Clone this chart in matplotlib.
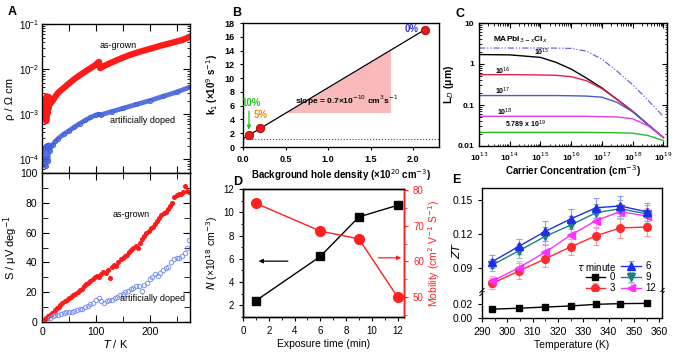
import numpy as np
import matplotlib
matplotlib.use('Agg')
import matplotlib.pyplot as plt
from matplotlib.ticker import MultipleLocator, NullFormatter, LogLocator

plt.rcParams['font.family'] = ['Liberation Sans', 'DejaVu Sans']
plt.rcParams['axes.linewidth'] = 1.0

# ---- panel A: resistivity (log) ----
T_rho_ag = [5, 6, 7, 8, 9, 10, 11, 12, 13, 14, 15, 17, 20, 25, 30, 40, 50, 60, 70, 80,
            90, 100, 104, 106, 108, 120, 140, 160, 180, 200, 220, 240, 260, 275]
rho_ag = [1.2e-3, 8e-4, 2.2e-3, 7e-4, 2.5e-3, 1.0e-3, 2.3e-3, 1.3e-3, 2.4e-3, 1.6e-3, 2.0e-3,
          1.8e-3, 2.0e-3, 2.5e-3, 3.0e-3, 3.8e-3, 4.8e-3, 6.0e-3, 7.3e-3, 8.8e-3,
          1.05e-2, 1.25e-2, 1.4e-2, 1.45e-2, 1.05e-2, 1.25e-2, 1.6e-2, 2.0e-2, 2.4e-2, 2.8e-2,
          3.3e-2, 3.8e-2, 4.4e-2, 5.2e-2]
T_rho_ad = [5, 6, 7, 8, 9, 10, 11, 12, 14, 16, 20, 25, 30, 40, 50, 60, 70, 80, 90, 100,
            105, 110, 130, 150, 175, 200, 225, 250, 275]
rho_ad = [1.0e-4, 1.8e-4, 7e-5, 2.0e-4, 1.1e-4, 1.9e-4, 9e-5, 2.1e-4, 1.5e-4, 2.0e-4, 2.1e-4,
          2.5e-4, 2.9e-4, 3.6e-4, 4.3e-4, 5.2e-4, 6.2e-4, 7.3e-4, 8.5e-4, 9.6e-4, 1.0e-3,
          0.98e-3, 1.15e-3, 1.35e-3, 1.65e-3, 2.0e-3, 2.5e-3, 3.1e-3, 4.0e-3]

# ---- panel A: Seebeck ----
T_S_ag = [6, 8, 10, 12, 14, 16, 19, 22, 25, 28, 31, 34, 38, 42, 46, 50, 54, 58, 62, 66, 70,
          74, 78, 82, 86, 90, 94, 98, 102, 106, 110, 114, 118, 122, 126, 130, 134, 138, 142,
          146, 150, 154, 158, 162, 166, 170, 174, 178, 182, 186, 190, 194, 198, 202, 206,
          210, 214, 218, 222, 226, 230, 234, 238, 242, 246, 250, 254, 258, 262, 266, 270, 274]
S_ag = [2, 3, 2.5, 4, 4.5, 5, 6, 7, 8, 9.5, 10, 11.5, 13, 14, 15, 16, 16.5, 18, 19, 20, 21.5,
        22, 24, 25.5, 26, 27.5, 29, 30, 31, 30, 32, 33.5, 33, 35, 29.5, 37, 38, 37.5, 40,
        42, 43, 44.5, 45, 47, 48, 50, 51, 50, 53, 56, 58, 60, 61, 63, 64,
        66, 68, 70, 72, 73, 74, 76, 78, 80, 84, 85, 86, 86, 87, 91, 88, 87]
T_S_ad = [15, 20, 25, 30, 35, 40, 45, 50, 55, 60, 65, 70, 75, 80, 85, 90, 95, 100, 105, 110,
          115, 120, 125, 130, 135, 140, 145, 150, 155, 160, 165, 170, 175, 180, 185, 190, 195,
          200, 205, 210, 215, 220, 225, 230, 235, 240, 245, 250, 255, 260, 265, 270, 274]
S_ad = [3, 4, 4.5, 5, 5.5, 6, 6.5, 7, 7, 7.5, 8, 8.5, 9, 10, 11, 12, 13, 15, 16, 14,
        13, 14, 15, 15, 16, 17, 18, 19, 20, 21, 22, 23, 24, 24, 21, 25, 26,
        29, 30, 32, 31, 33, 35, 36, 37, 40, 42, 43, 43, 44, 46, 50, 55]

# ---- panel B ----
hole_density = [0.07, 0.2, 2.13]
k1 = [1.8, 2.7, 17.0]
fit_x = [0.0, 2.13]
fit_y = [1.2, 17.0]
shade_x = [0.52, 1.73]
dotted_level = 1.1

# ---- panel C ----
n_carrier = [1e13, 1e14, 1e15, 3.16e15, 1e16, 3.16e16, 1e17, 3.16e17, 1e18, 3.16e18, 1e19]
L_mapbi = [2.45, 2.45, 2.45, 2.44, 2.4, 2.05, 1.3, 0.66, 0.31, 0.13, 0.052]
L_15 = [1.70, 1.67, 1.45, 1.1, 0.75, 0.45, 0.26, 0.135, 0.07, 0.033, 0.016]
L_16 = [0.55, 0.55, 0.54, 0.53, 0.49, 0.39, 0.25, 0.135, 0.07, 0.033, 0.016]
L_17 = [0.17, 0.17, 0.17, 0.17, 0.168, 0.165, 0.155, 0.115, 0.068, 0.033, 0.016]
L_18 = [0.053, 0.053, 0.053, 0.053, 0.053, 0.053, 0.052, 0.051, 0.046, 0.031, 0.016]
L_19 = [0.0215, 0.0215, 0.0215, 0.0215, 0.0215, 0.0215, 0.0213, 0.021, 0.0205, 0.018, 0.0135]

# ---- panel D ----
exposure = [1, 6, 9, 12]
N_hole = [2.4, 6.2, 9.6, 10.6]
mobility = [76.3, 68.5, 66.3, 50.0]

# ---- panel E ----
T_zt = [294, 304.5, 315, 325, 335, 344.5, 355]
zt = {
    '0': [0.0129, 0.0143, 0.016, 0.0176, 0.020, 0.021, 0.0214],
    '3': [0.076, 0.087, 0.098, 0.1086, 0.1185, 0.1254, 0.1263],
    '6': [0.0954, 0.109, 0.1224, 0.1335, 0.1434, 0.145, 0.1398],
    '9': [0.0924, 0.105, 0.118, 0.128, 0.139, 0.1425, 0.138],
    '12': [0.078, 0.090, 0.104, 0.119, 0.132, 0.140, 0.136],
}
zt_err = {
    '3': [0.005, 0.007, 0.007, 0.007, 0.008, 0.009, 0.008],
    '6': [0.006, 0.007, 0.009, 0.009, 0.009, 0.009, 0.008],
    '9': [0.005, 0.006, 0.008, 0.008, 0.008, 0.008, 0.008],
    '12': [0.005, 0.006, 0.007, 0.007, 0.007, 0.007, 0.007],
}

W, H = 674, 356
fig = plt.figure(figsize=(W / 100, H / 100), dpi=100)


def px_axes(l, t, r, b):
    return fig.add_axes([l / W, 1 - b / H, (r - l) / W, (b - t) / H])


# ================= A =================
red_a = '#ff1a1a'
blue_a = '#3b5bdb'
axa1 = px_axes(42, 24, 190, 173)
axa1.plot(T_rho_ag, rho_ag, color=red_a, lw=4.5, solid_joinstyle='round')
axa1.plot(T_rho_ad, rho_ad, color=blue_a, lw=3.5, alpha=0.85)
axa1.plot(T_rho_ad, rho_ad, 'o', ms=3, mfc='none', mec=blue_a, mew=0.6)
axa1.set_yscale('log')
axa1.set_ylim(5e-5, 1e-1)
axa1.set_xlim(0, 275)
axa1.xaxis.set_major_locator(MultipleLocator(50))
axa1.xaxis.set_major_formatter(NullFormatter())
axa1.yaxis.set_major_locator(LogLocator(base=10, numticks=10))
axa1.yaxis.set_minor_locator(LogLocator(base=10, subs=np.arange(2, 10), numticks=10))
axa1.yaxis.set_minor_formatter(NullFormatter())
axa1.tick_params(which='both', direction='in', top=True, right=True, labelsize=7)
axa1.tick_params(which='major', length=5, pad=2)
axa1.tick_params(which='minor', length=2.5)
axa1.set_ylabel('ρ / Ω cm', fontsize=8)
axa1.yaxis.set_label_coords(-0.185, 0.5)
axa1.text(142, 3.3e-2, 'as-grown', fontsize=6.5, ha='center', va='center')
axa1.text(186, 7.4e-4, 'artificially doped', fontsize=6.5, ha='center', va='center')

axa2 = px_axes(42, 173, 190, 322)
axa2.plot(T_S_ag, S_ag, 'o', ms=2.6, color=red_a, mec=red_a)
axa2.plot(T_S_ad, S_ad, 'o', ms=3.2, mfc='none', mec='#7d93ee', mew=0.7)
axa2.set_xlim(0, 275)
axa2.set_ylim(0, 100)
axa2.xaxis.set_major_locator(MultipleLocator(100))
axa2.xaxis.set_minor_locator(MultipleLocator(50))
axa2.yaxis.set_major_locator(MultipleLocator(20))
axa2.yaxis.set_minor_locator(MultipleLocator(10))
axa2.tick_params(which='both', direction='in', top=True, right=True, labelsize=7.5)
axa2.tick_params(which='major', length=5)
axa2.tick_params(which='minor', length=4)
axa2.set_ylabel('S / μV deg$^{-1}$', fontsize=8)
axa2.yaxis.set_label_coords(-0.15, 0.5)
axa2.set_xlabel('$T$ / K', fontsize=8, labelpad=1)
axa2.text(166, 72, 'as-grown', fontsize=6.5, ha='center', va='center')
axa2.text(206, 15.6, 'artificially doped', fontsize=6.5, ha='center', va='center')

# ================= B =================
axb = px_axes(243, 23, 439, 147)
axb.fill_between(shade_x, [fit_y[0] + (fit_y[1] - fit_y[0]) / fit_x[1] * v for v in shade_x],
                 5, color='#f7aeae', lw=0, alpha=0.85)
axb.axhline(dotted_level, ls=':', color='#444444', lw=0.8)
axb.plot(fit_x, fit_y, color='k', lw=0.9)
axb.plot(hole_density, k1, 'o', ms=6, color='#e41b1b', mec='#b00000', mew=0.6)
axb.set_xlim(0, 2.3)
axb.set_ylim(0, 18)
axb.xaxis.set_major_locator(MultipleLocator(0.5))
axb.yaxis.set_major_locator(MultipleLocator(2))
axb.tick_params(direction='out', length=2.5, labelsize=6.5)
for lab in axb.get_xticklabels() + axb.get_yticklabels():
    lab.set_fontweight('bold')
axb.set_xlabel('Background hole density (×10$^{20}$ cm$^{-3}$)', fontsize=7,
               fontweight='bold', labelpad=2)
axb.set_ylabel('k$_1$ (×10$^9$ s$^{-1}$)', fontsize=7, fontweight='bold', labelpad=3)
axb.text(1.22, 5.6, 'slope = 0.7×10$^{-10}$ cm$^3$s$^{-1}$', fontsize=6,
         fontweight='bold', ha='center', va='bottom')
axb.text(1.98, 17.15, '0%', color='#3030e0', fontsize=7, fontweight='bold',
         ha='center', va='center')
axb.text(0.21, 3.9, '5%', color='#f08a1c', fontsize=7, fontweight='bold',
         ha='center', va='bottom')
axb.text(0.1, 6.4, '10%', color='#22c422', fontsize=7, fontweight='bold',
         ha='center', va='center')
axb.annotate('', xy=(0.07, 2.1), xytext=(0.07, 5.6),
             arrowprops=dict(arrowstyle='-|>', color='#22c422', lw=0.9, mutation_scale=6))

# ================= C =================
axc = px_axes(479, 23, 667, 146)
axc.plot(n_carrier, L_mapbi, color='#6a6ad8', lw=0.9, ls=(0, (5, 1.5, 1, 1.5, 1, 1.5)))
axc.plot(n_carrier, L_15, color='k', lw=1.0)
axc.plot(n_carrier, L_16, color='#e2204e', lw=1.0)
axc.plot(n_carrier, L_17, color='#4a5ad0', lw=1.0)
axc.plot(n_carrier, L_18, color='#e040e0', lw=1.0)
axc.plot(n_carrier, L_19, color='#22c022', lw=1.0)
axc.set_xscale('log')
axc.set_yscale('log')
axc.set_xlim(1e13, 1.3e19)
axc.set_ylim(0.01, 10)
axc.set_xticks([1e13, 1e14, 1e15, 1e16, 1e17, 1e18, 1e19])
axc.set_xticklabels(['10$^{%d}$' % e for e in range(13, 20)])
axc.set_yticks([0.01, 0.1, 1, 10])
axc.set_yticklabels(['0.01', '0.1', '1', '10'])
axc.xaxis.set_minor_locator(LogLocator(base=10, subs=np.arange(2, 10), numticks=20))
axc.yaxis.set_minor_locator(LogLocator(base=10, subs=np.arange(2, 10), numticks=20))
axc.xaxis.set_minor_formatter(NullFormatter())
axc.yaxis.set_minor_formatter(NullFormatter())
axc.tick_params(which='both', direction='in', top=True, right=True, labelsize=6)
axc.tick_params(which='major', length=3.5)
axc.tick_params(which='minor', length=1.8)
for lab in axc.get_xticklabels() + axc.get_yticklabels():
    lab.set_fontweight('bold')
axc.set_xlabel('Carrier Concentration (cm$^{-3}$)', fontsize=7, fontweight='bold', labelpad=0)
axc.set_ylabel('L$_D$ (μm)', fontsize=7.5, fontweight='bold', labelpad=1)
axc.text(2.8e13, 4.0, 'MAPbI$_{3-x}$Cl$_x$', fontsize=6, fontweight='bold', va='center')
axc.text(1.1e15, 1.95, '10$^{15}$', fontsize=5, fontweight='bold', ha='center', va='center')
axc.text(6e13, 0.68, '10$^{16}$', fontsize=5, fontweight='bold', ha='center', va='center')
axc.text(6e13, 0.215, '10$^{17}$', fontsize=5, fontweight='bold', ha='center', va='center')
axc.text(7e13, 0.067, '10$^{18}$', fontsize=5, fontweight='bold', ha='center', va='center')
axc.text(7e13, 0.033, '5.789 x 10$^{19}$', fontsize=5, fontweight='bold', va='center')

# ================= D =================
red_d = '#ff2020'
axd = px_axes(243, 189, 404, 317)
axd.plot(exposure, N_hole, 'k-s', ms=6, lw=1)
axd.set_xlim(0, 12.5)
axd.set_ylim(1, 12)
axd.xaxis.set_major_locator(MultipleLocator(2))
axd.xaxis.set_minor_locator(MultipleLocator(1))
axd.yaxis.set_major_locator(MultipleLocator(2))
axd.yaxis.set_minor_locator(MultipleLocator(1))
axd.tick_params(which='both', direction='out', labelsize=7)
axd.tick_params(which='major', length=3)
axd.tick_params(which='minor', length=1.8)
axd.set_xlabel('Exposure time (min)', fontsize=7.5, labelpad=2)
axd.set_ylabel('$N$ (×10$^{18}$ cm$^{-3}$)', fontsize=7.5, labelpad=2)
axd.annotate('', xy=(1.0, 5.8), xytext=(3.7, 5.8),
             arrowprops=dict(arrowstyle='-|>', color='k', lw=0.9, mutation_scale=6))
axd2 = axd.twinx()
axd2.plot(exposure, mobility, '-o', color=red_d, ms=7, lw=1)
axd2.set_ylim(44.4, 80.3)
axd2.yaxis.set_major_locator(MultipleLocator(10))
axd2.yaxis.set_minor_locator(MultipleLocator(5))
axd2.tick_params(which='both', direction='out', colors=red_d, labelsize=7)
axd2.tick_params(which='major', length=3)
axd2.tick_params(which='minor', length=1.8)
axd2.spines['right'].set_color(red_d)
axd2.set_ylabel('Mobility (cm$^2$ V$^{-1}$ S$^{-1}$)', fontsize=7.5, color=red_d, labelpad=2)
axd2.annotate('', xy=(12.5, 61.0), xytext=(10.3, 61.0),
              arrowprops=dict(arrowstyle='-|>', color=red_d, lw=0.9, mutation_scale=6))

# ================= E =================
axe_hi = px_axes(482, 188, 662, 292)
axe_lo = px_axes(482, 292, 662, 318)
styles = {
    '0': ('s', 'k', 'k'),
    '3': ('o', '#ff2a2a', '#ff9a9a'),
    '6': ('^', '#1f2fe6', '#9098f0'),
    '9': ('v', '#1e7f80', '#8fc0c0'),
    '12': ('<', '#ff30ff', '#ffa0ff'),
}
handles = {}
for key in ['3', '12', '9', '6']:
    m, c, ec = styles[key]
    h = axe_hi.errorbar(T_zt, zt[key], yerr=zt_err[key], color=c, marker=m, ms=5.5, lw=1,
                        ecolor=ec, elinewidth=0.8, capsize=2, capthick=0.8)
    handles[key] = h
m, c, ec = styles['0']
handles['0'] = axe_lo.plot(T_zt, zt['0'], color=c, marker=m, ms=4.5, lw=1)[0]

for ax in (axe_hi, axe_lo):
    ax.set_xlim(290, 361)
    ax.xaxis.set_major_locator(MultipleLocator(10))
    ax.xaxis.set_minor_locator(MultipleLocator(5))
    ax.tick_params(which='both', direction='out', labelsize=7.5)
    ax.tick_params(which='major', length=3)
    ax.tick_params(which='minor', length=1.8)
axe_hi.set_ylim(0.0684, 0.161)
axe_hi.set_yticks([0.09, 0.12, 0.15])
axe_hi.spines['bottom'].set_visible(False)
axe_hi.tick_params(which='both', bottom=False, labelbottom=False)
axe_lo.set_ylim(0, 0.038)
axe_lo.set_yticks([0.00, 0.02])
axe_lo.set_yticklabels(['0.00', '0.02'])
axe_lo.spines['top'].set_visible(False)
axe_lo.set_xlabel('Temperature (K)', fontsize=7.5, labelpad=2)
fig.text(456 / W, 1 - 250 / H, '$ZT$', rotation=90, fontsize=8, ha='center', va='center')

# break marks
for xa in (0, 1):
    for dy in (-0.015, 0.015):
        axe_hi.plot([xa - 0.012, xa + 0.012], [dy - 0.02, dy + 0.02],
                    transform=axe_hi.transAxes, color='k', lw=0.7, clip_on=False)

blank = plt.Line2D([], [], color='none')
leg = axe_hi.legend([blank, handles['0'], handles['3'], handles['6'], handles['9'], handles['12']],
                    ['', '0', '3', '6', '9', '12'], ncol=2, loc='lower right',
                    bbox_to_anchor=(0.99, -0.05), frameon=False, fontsize=7,
                    handlelength=2.0, handletextpad=0.5, labelspacing=0.12,
                    columnspacing=0.6, borderaxespad=0)
fig.text(577 / W, 1 - 267 / H, '$\\tau$ minute', fontsize=7, ha='left', va='center')

# panel letters
for lab, x, y in [('A', 8, 12), ('B', 232, 13), ('C', 455, 14), ('D', 233, 182), ('E', 452, 180)]:
    fig.text(x / W, 1 - y / H, lab, fontsize=9, fontweight='bold', ha='left', va='center')

fig.savefig('out.png', dpi=100)
